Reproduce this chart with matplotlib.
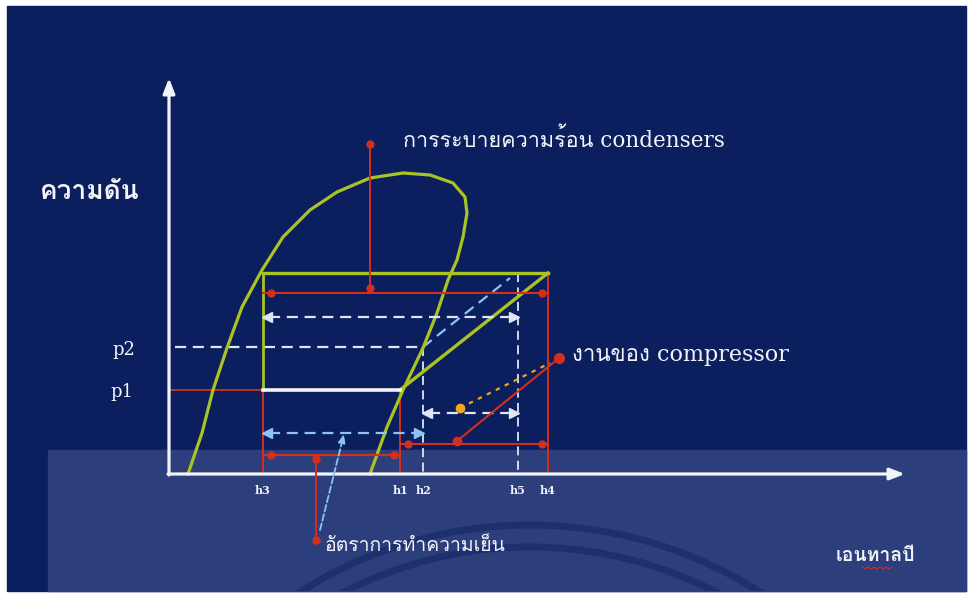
import matplotlib
matplotlib.use('Agg')
import matplotlib.pyplot as plt
from matplotlib import font_manager
from matplotlib.patches import Rectangle, Arc

# --- find a font that has Thai glyphs ---
def find_thai_family():
    for f in font_manager.fontManager.ttflist:
        try:
            cmap = font_manager.get_font(f.fname).get_charmap()
        except Exception:
            continue
        if 0x0E01 in cmap and 0x0E32 in cmap:
            return f.name
    return None

thai = find_thai_family()
# latin in serif, thai glyphs fall back to the thai font
serif_fam = ['DejaVu Serif'] + ([thai] if thai else [])
bold_fam = ([thai] if thai else []) + ['DejaVu Sans']

# --- diagram data (drawing units: x = enthalpy, y = pressure, y grows downward) ---
h_labels = ['h3', 'h1', 'h2', 'h5', 'h4']
h_pos = [263, 400, 423, 518, 548]
h3, h1, h2, h5, h4 = h_pos

p_top = 273      # condensing pressure line
p2 = 347
p1 = 390
axis_y = 474     # x axis (bottom)
axis_x = 169     # y axis (left)

dome_x = [188, 202, 213, 227, 242, 262, 283, 310, 337, 370, 403, 430, 453, 465, 467,
          463, 457, 448, 437, 423, 403, 387, 370]
dome_y = [474, 433, 390, 348, 307, 270, 237, 210, 192, 178, 173, 175, 183, 197, 213,
          237, 260, 280, 313, 348, 390, 427, 474]

texts_cond = 'การระบายความร้อน condensers'
texts_comp = 'งานของ compressor'
texts_cool = 'อัตราการทำความเย็น'
label_p = 'ความดัน'
label_h = 'เอนทาลปี'

NAVY = '#0b1e5d'
BAND = '#2c3f7c'
GREEN = '#a9c322'
RED = '#d42f1c'
WHITE = '#f2f4f8'
DASHW = '#dde6f4'
LBLUE = '#8ec4ef'
ORANGE = '#f0a51c'

fig = plt.figure(figsize=(9.74, 5.94), dpi=100)
fig.patch.set_facecolor('white')
ax = fig.add_axes([0, 0, 1, 1])
ax.set_xlim(0, 974)
ax.set_ylim(594, 0)
ax.axis('off')

# background slide
ax.add_patch(Rectangle((7, 6), 959, 585, color=NAVY, zorder=0))
band = Rectangle((48, 450), 918, 141, color=BAND, zorder=0.5)
ax.add_patch(band)
for r in [428, 406]:
    a = Arc((530, 953), 2 * r, 2 * r, color='#1d2f6c', lw=5, zorder=0.6)
    ax.add_patch(a)
    a.set_clip_path(band)

# axes arrows
arrow_kw = dict(arrowstyle='-|>,head_length=0.9,head_width=0.35', color=WHITE, lw=2.3,
                shrinkA=0, shrinkB=0)
ax.annotate('', xy=(axis_x, 78), xytext=(axis_x, axis_y + 1), arrowprops=arrow_kw, zorder=5)
ax.annotate('', xy=(905, axis_y), xytext=(axis_x - 1, axis_y), arrowprops=arrow_kw, zorder=5)

# red guide lines
ax.plot([axis_x, h3], [p1, p1], color=RED, lw=1.3, zorder=2)
for x, y0 in [(h3, p1), (h1, p1), (h4, p_top)]:
    ax.plot([x, x], [y0, axis_y], color=RED, lw=1.4, zorder=2)

# white dashed guides
dash = (0, (5, 3))
ax.plot([axis_x + 6, h2], [p2, p2], color=DASHW, lw=1.6, ls=dash, zorder=3)
ax.plot([h2, h2], [p2, axis_y], color=DASHW, lw=1.3, ls=dash, zorder=3)
ax.plot([h5, h5], [p_top, axis_y], color=DASHW, lw=1.3, ls=dash, zorder=3)
ax.plot([h2, 510], [p2, 278], color=LBLUE, lw=1.6, ls=dash, zorder=3)

# saturation dome and cycle
ax.plot(dome_x, dome_y, color=GREEN, lw=2.3, solid_joinstyle='round', zorder=4)
ax.plot([h3, h4], [p_top, p_top], color=GREEN, lw=2.4, zorder=4)
ax.plot([h3, h3], [p_top, p1], color=GREEN, lw=2.0, zorder=4)
ax.plot([h1, h4], [p1, p_top], color=GREEN, lw=2.4, zorder=4)
ax.plot([h3, h1], [p1, p1], color=WHITE, lw=2.6, zorder=4)


def dashed_double(x0, x1, y, color):
    ax.plot([x0 + 6, x1 - 6], [y, y], color=color, lw=1.6, ls=dash, zorder=5)
    ax.plot([x0 + 4], [y], marker='<', ms=7, color=color, mec=color, zorder=5)
    ax.plot([x1 - 4], [y], marker='>', ms=7, color=color, mec=color, zorder=5)


def red_double(x0, x1, y):
    ax.plot([x0, x1], [y, y], color=RED, lw=1.5, zorder=5)
    ax.plot([x0 + 8, x1 - 6], [y, y], ls='none', marker='o', ms=5, color=RED, zorder=5)


dashed_double(h3, h5, 317, DASHW)
dashed_double(h2, h5, 413, DASHW)
dashed_double(h3, h2, 433, LBLUE)
red_double(h3, h4, 293)
red_double(h3, h1, 455)
red_double(h1, h4, 444)

# condenser label leader
ax.plot([370, 370], [144, 290], color=RED, lw=1.4, zorder=5)
ax.plot([370, 370], [144, 288], ls='none', marker='o', ms=5, color=RED, zorder=6)
# refrigeration effect leader
ax.plot([316, 316], [455, 540], color=RED, lw=1.4, zorder=5)
ax.plot([316, 316], [459, 540], ls='none', marker='o', ms=5, color=RED, zorder=6)
ax.annotate('', xy=(344, 434), xytext=(320, 530),
            arrowprops=dict(arrowstyle='-|>,head_length=0.5,head_width=0.2', color=LBLUE,
                            lw=1.3, ls='--', shrinkA=0, shrinkB=0), zorder=5)
# compressor work
ax.plot([457, 559], [441, 358], color=RED, lw=1.5, zorder=5)
ax.plot([457], [441], marker='o', ms=6, color=RED, zorder=6)
ax.plot([559], [358], marker='o', ms=7, color=RED, zorder=6)
ax.plot([460, 550], [408, 363], color=ORANGE, lw=1.6, ls=(0, (2, 2.5)), zorder=5)
ax.plot([460], [408], marker='o', ms=6, color=ORANGE, zorder=6)

# texts
ax.text(40, 192, label_p, color=WHITE, fontsize=19, fontweight='bold', family=bold_fam,
        va='center', ha='left')
ax.text(403, 140, texts_cond, color=WHITE, fontsize=15.5, family=serif_fam, va='center', ha='left')
ax.text(572, 355, texts_comp, color=WHITE, fontsize=16, family=serif_fam, va='center', ha='left')
ax.text(325, 546, texts_cool, color=WHITE, fontsize=14, family=bold_fam, va='center', ha='left')
ax.text(915, 556, label_h, color=WHITE, fontsize=14, fontweight='bold', family=bold_fam,
        va='center', ha='right')
ax.plot([862, 865, 868, 871, 874, 877, 880, 883, 886, 889, 892],
        [567, 569, 567, 569, 567, 569, 567, 569, 567, 569, 567], color=RED, lw=0.8, zorder=6)

ax.text(135, 350, 'p2', color=WHITE, fontsize=13, family='DejaVu Serif', va='center', ha='right')
ax.text(133, 392, 'p1', color=WHITE, fontsize=13, family='DejaVu Serif', va='center', ha='right')
for lab, x in zip(h_labels, h_pos):
    ax.text(x, 491, lab, color=WHITE, fontsize=8, fontweight='bold', family='DejaVu Serif',
            va='center', ha='center')

fig.savefig('out.png', dpi=100, facecolor=fig.get_facecolor())
